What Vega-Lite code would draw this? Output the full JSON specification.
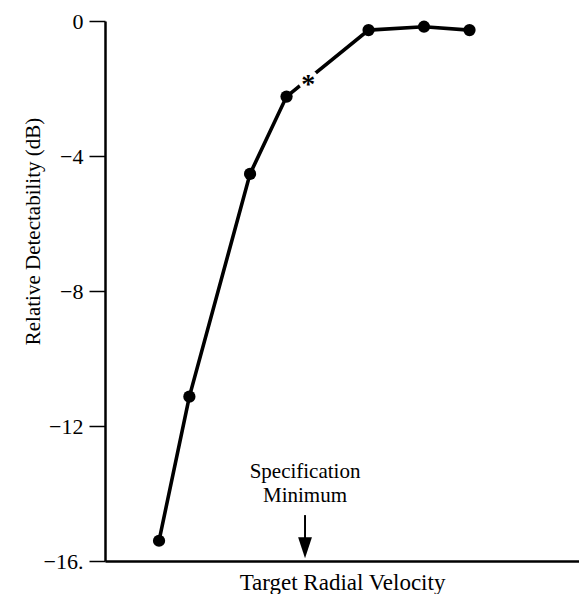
{
  "$schema": "https://vega.github.io/schema/vega-lite/v6.json",
  "width": 474,
  "height": 540,
  "autosize": {"type": "none"},
  "padding": {"left": 105, "top": 21, "right": 0, "bottom": 33},
  "background": "white",
  "config": {
    "view": {"stroke": null},
    "font": "Liberation Serif",
    "axis": {"grid": false, "domainColor": "black", "tickColor": "black", "labelColor": "black", "titleColor": "black", "labelFont": "Liberation Serif", "titleFont": "Liberation Serif", "titleFontWeight": "normal"}
  },
  "datasets": {
    "curve": [
      {"v": 11.4, "db": -15.40},
      {"v": 17.8, "db": -11.13},
      {"v": 30.6, "db": -4.53},
      {"v": 38.3, "db": -2.24},
      {"v": 55.6, "db": -0.27},
      {"v": 67.3, "db": -0.17},
      {"v": 76.9, "db": -0.27}
    ],
    "star": [{"v": 42.9, "db": -1.75, "label": "*"}],
    "spec": [{"v": 42.2, "top": -14.64, "bottom": -15.4, "head": -15.61, "label": "Specification\nMinimum", "ty": -13.53}]
  },
  "encoding": {
    "x": {"field": "v", "type": "quantitative", "scale": {"domain": [0, 100], "nice": false, "zero": false},
      "axis": {"title": "Target Radial Velocity", "labels": false, "ticks": false, "domainWidth": 2.5, "titleFontSize": 23, "titlePadding": 10}},
    "y": {"field": "db", "type": "quantitative", "scale": {"domain": [-16, 0], "nice": false, "zero": false},
      "axis": {"title": "Relative Detectability (dB)", "values": [0, -4, -8, -12, -16], "labelExpr": "datum.value === -16 ? '\u221216.' : datum.label", "labelFontSize": 22, "labelPadding": 6, "tickSize": 16, "tickWidth": 1.5, "domainWidth": 2.5, "titleFontSize": 21, "titleX": -72, "titleY": 210, "titleAngle": -90, "titleBaseline": "middle", "titleAlign": "center"}}
  },
  "layer": [
    {"data": {"name": "curve"}, "mark": {"type": "line", "color": "black", "strokeWidth": 3.6}},
    {"data": {"name": "star"}, "mark": {"type": "point", "shape": "circle", "filled": true, "color": "white", "opacity": 1, "size": 441}},
    {"data": {"name": "curve"}, "mark": {"type": "point", "shape": "circle", "filled": true, "color": "black", "opacity": 1, "size": 150}},
    {"data": {"name": "star"}, "mark": {"type": "text", "fontSize": 28, "fontWeight": "bold", "font": "Liberation Serif", "baseline": "alphabetic", "align": "center", "dy": 13, "color": "black"},
      "encoding": {"text": {"field": "label"}}},
    {"data": {"name": "spec"}, "mark": {"type": "rule", "color": "black", "strokeWidth": 2},
      "encoding": {"y": {"field": "top", "type": "quantitative"}, "y2": {"field": "bottom"}}},
    {"data": {"name": "spec"}, "mark": {"type": "point", "shape": "M-0.66,-1L0.66,-1L0,1Z", "filled": true, "color": "black", "opacity": 1, "size": 441},
      "encoding": {"y": {"field": "head", "type": "quantitative"}}},
    {"data": {"name": "spec"}, "mark": {"type": "text", "fontSize": 21, "font": "Liberation Serif", "baseline": "alphabetic", "align": "center", "lineBreak": "\n", "lineHeight": 24, "color": "black"},
      "encoding": {"y": {"field": "ty", "type": "quantitative"}, "text": {"field": "label"}}}
  ]
}
